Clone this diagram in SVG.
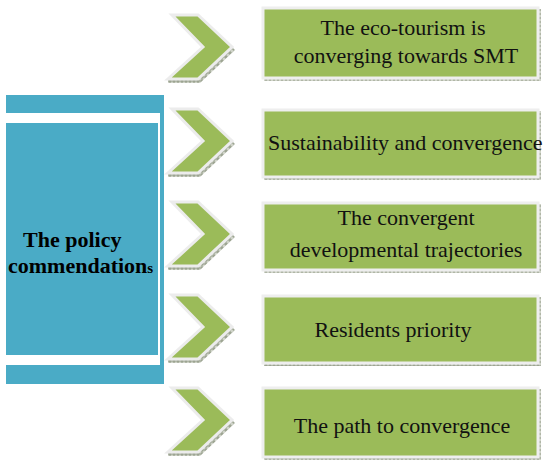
<svg xmlns="http://www.w3.org/2000/svg" width="545" height="462" viewBox="0 0 545 462">
<defs>
<pattern id="hatch" width="4" height="4" patternUnits="userSpaceOnUse">
<rect width="4" height="4" fill="#cfd3c8"/>
<path d="M0 2H4M2 0V4" stroke="#7f8a72" stroke-width="0.8"/>
</pattern>
<path id="chev" d="M4 0H30L64 32L30 64H0L35 32Z"/>
</defs>
<style>
.box{fill:#9bbb59;stroke:#eeeeee;stroke-width:3}
.shadow{fill:url(#hatch)}
.chev{fill:#9bbb59;stroke:#ececec;stroke-width:3;stroke-linejoin:miter}
.edge{fill:none;stroke:#9a9a9a;stroke-width:1;stroke-dasharray:2 1}
text{font-family:"Liberation Serif","Times New Roman",Times,"DejaVu Serif",serif}
.t{font-size:22px;fill:#111}
.tb{font-size:22px;font-weight:bold;fill:#000}
</style>
<g id="policy">
<rect x="6" y="95" width="158" height="289" fill="#4aabc6"/>
<rect x="6" y="113" width="154" height="252" fill="#ffffff"/>
<rect x="6" y="123" width="152" height="232" fill="#4aabc6"/>
<text class="tb" x="23" y="247" font-family="Liberation Serif, serif">The policy</text>
<text class="tb" x="8" y="273" font-family="Liberation Serif, serif">commendation<tspan font-size="15">s</tspan></text>
</g>
<g id="connectors">
<g transform="translate(168,15)"><path class="shadow" d="M0 64H30L64 32L67 35L32 68H0Z"/><path class="edge" d="M4 0L35 32"/><use href="#chev" class="chev"/></g>
<g transform="translate(168,109)"><path class="shadow" d="M0 64H30L64 32L67 35L32 68H0Z"/><path class="edge" d="M4 0L35 32"/><use href="#chev" class="chev"/></g>
<g transform="translate(168,202)"><path class="shadow" d="M0 64H30L64 32L67 35L32 68H0Z"/><path class="edge" d="M4 0L35 32"/><use href="#chev" class="chev"/></g>
<g transform="translate(168,295)"><path class="shadow" d="M0 64H30L64 32L67 35L32 68H0Z"/><path class="edge" d="M4 0L35 32"/><use href="#chev" class="chev"/></g>
<g transform="translate(168,388)"><path class="shadow" d="M0 64H30L64 32L67 35L32 68H0Z"/><path class="edge" d="M4 0L35 32"/><use href="#chev" class="chev"/></g>
</g>
<g id="box1">
<rect class="shadow" x="264" y="9" width="277" height="72"/>
<rect class="box" x="263" y="8" width="275" height="70"/>
<text class="t" x="403" y="35" text-anchor="middle" font-family="Liberation Serif, serif">The eco-tourism is</text>
<text class="t" x="406" y="63" text-anchor="middle" font-family="Liberation Serif, serif">converging towards SMT</text>
</g>
<g id="box2">
<rect class="shadow" x="264" y="111" width="277" height="69"/>
<rect class="box" x="263" y="110" width="275" height="67"/>
<text class="t" x="268" y="150" font-family="Liberation Serif, serif">Sustainability and convergence</text>
</g>
<g id="box3">
<rect class="shadow" x="264" y="204" width="277" height="69"/>
<rect class="box" x="263" y="203" width="275" height="67"/>
<text class="t" x="406" y="225" text-anchor="middle" font-family="Liberation Serif, serif">The convergent</text>
<text class="t" x="406" y="257" text-anchor="middle" font-family="Liberation Serif, serif">developmental trajectories</text>
</g>
<g id="box4">
<rect class="shadow" x="264" y="297" width="277" height="69"/>
<rect class="box" x="263" y="296" width="275" height="67"/>
<text class="t" x="393" y="337" text-anchor="middle" font-family="Liberation Serif, serif">Residents priority</text>
</g>
<g id="box5">
<rect class="shadow" x="264" y="389" width="277" height="71"/>
<rect class="box" x="263" y="388" width="275" height="69"/>
<text class="t" x="402" y="433" text-anchor="middle" font-family="Liberation Serif, serif">The path to convergence</text>
</g>
</svg>
